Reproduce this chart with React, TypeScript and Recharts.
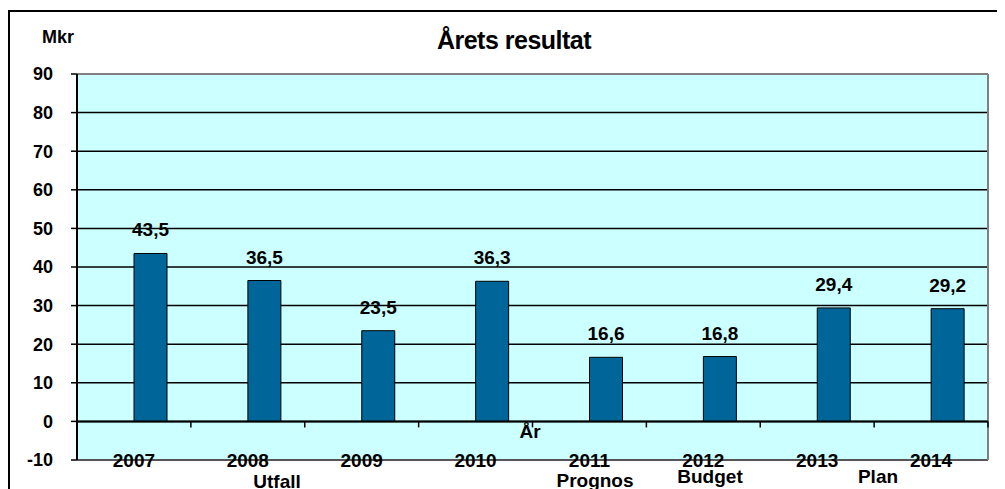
import React from 'react';
import { BarChart, Bar, XAxis, YAxis, CartesianGrid, ReferenceLine, LabelList } from 'recharts';

const years = ['2007', '2008', '2009', '2010', '2011', '2012', '2013', '2014'];
const resultat = [43.5, 36.5, 23.5, 36.3, 16.6, 16.8, 29.4, 29.2];
const yTicks = [-10, 0, 10, 20, 30, 40, 50, 60, 70, 80, 90];

// text boxes under the axis, placed by hand like in the original sheet
const notes = [
  { text: 'Utfall', left: 269, top: 473 },
  { text: 'Prognos', left: 587, top: 472 },
  { text: 'Budget', left: 702, top: 468 },
  { text: 'Plan', left: 870, top: 468 },
  { text: 'År', left: 522, top: 423 },
];

const data = years.map((year, i) => ({ year, tom: null, resultat: resultat[i] }));

const font = '"Liberation Sans", Arial, sans-serif';

const fmt = (v: any) => (typeof v === 'number' ? v.toFixed(1).replace('.', ',') : '');

const YearTick = (props: any) => {
  const { x, y, payload } = props;
  return (
    <text x={x} y={y} dy="0.35em" textAnchor="middle" fontSize={19} fontWeight="bold" fill="#000" fontFamily={font}>
      {payload.value}
    </text>
  );
};

// zero line with small ticks between the categories
const ZeroAxis = (props: any) => {
  const { x1, y1, x2, y2 } = props;
  const step = (x2 - x1) / years.length;
  return (
    <g>
      <line x1={x1} y1={y1} x2={x2} y2={y2} stroke="#000" strokeWidth={2} />
      {years.map((y, i) => (
        <line key={y} x1={x1 + step * (i + 1)} x2={x1 + step * (i + 1)} y1={y1} y2={y1 + 6} stroke="#000" strokeWidth={1.5} />
      ))}
    </g>
  );
};

export default function App() {
  return (
    <div style={{ position: 'relative', width: 997, height: 481, overflow: 'hidden', fontFamily: font }}>
      <div style={{ position: 'absolute', left: 0, top: 2, width: 1010, height: 520, border: '2px solid #000', boxSizing: 'border-box' }} />
      <div style={{ position: 'absolute', left: 34, top: 20, fontSize: 18, fontWeight: 'bold', lineHeight: 1 }}>Mkr</div>
      <div style={{ position: 'absolute', left: 506, top: 32, transform: 'translate(-50%, -50%)', fontSize: 25, fontWeight: 'bold', lineHeight: 1, letterSpacing: -0.5, whiteSpace: 'nowrap' }}>
        Årets resultat
      </div>
      <div style={{ position: 'absolute', left: 0, top: 0 }}>
        <BarChart width={997} height={481} data={data} margin={{ top: 66, right: 17, left: 0, bottom: 0 }} barSize={33} barGap={0}>
          <CartesianGrid
            vertical={false}
            fill="#CCFFFF"
            stroke="#000"
            strokeWidth={1.5}
            horizontalValues={yTicks.filter((t) => t > -10 && t < 90)}
          />
          <XAxis
            dataKey="year"
            axisLine={false}
            tickLine={false}
            tickSize={0}
            tickMargin={0}
            height={29}
            interval={0}
            tick={<YearTick />}
          />
          <YAxis
            width={69}
            domain={[-10, 90]}
            ticks={yTicks}
            interval={0}
            axisLine={{ stroke: '#000', strokeWidth: 2 }}
            tickLine={{ stroke: '#000', strokeWidth: 1.5 }}
            tickSize={6}
            tickMargin={18}
            tick={{ fontSize: 18, fontWeight: 'bold', fill: '#000', fontFamily: font }}
          />
          <ReferenceLine y={90} stroke="#808080" strokeWidth={2} />
          <ReferenceLine y={-10} stroke="#555" strokeWidth={2} />
          <ReferenceLine x="2014" position="end" stroke="#808080" strokeWidth={2} />
          <Bar dataKey="tom" fill="#006699" isAnimationActive={false} />
          <Bar dataKey="resultat" fill="#006699" stroke="#000" strokeWidth={1} isAnimationActive={false}>
            <LabelList
              dataKey="resultat"
              position="top"
              offset={17}
              formatter={fmt}
              style={{ fontSize: 19, fontWeight: 'bold', fill: '#000', fontFamily: font }}
            />
          </Bar>
          <ReferenceLine y={0} shape={<ZeroAxis />} />
        </BarChart>
      </div>
      {notes.map((n) => (
        <div
          key={n.text}
          style={{ position: 'absolute', left: n.left, top: n.top, transform: 'translate(-50%, -50%)', fontSize: 19, fontWeight: 'bold', lineHeight: 1, whiteSpace: 'nowrap' }}
        >
          {n.text}
        </div>
      ))}
    </div>
  );
}
